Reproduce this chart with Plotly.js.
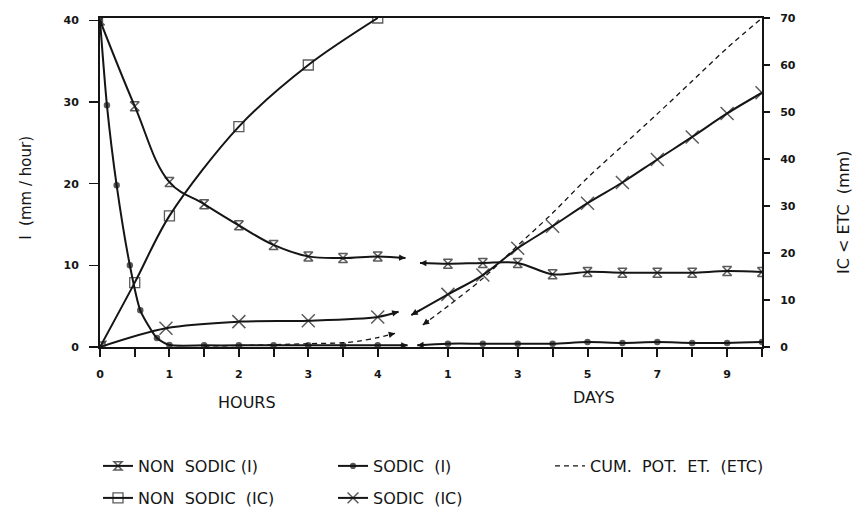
<!DOCTYPE html>
<html>
<head>
<meta charset="utf-8">
<script src="https://cdn.plot.ly/plotly-3.0.1.min.js"></script>
<style>html,body{margin:0;padding:0;background:#fff;}#chart{width:854px;height:507px;}</style>
</head>
<body>
<div id="chart"></div>
<script>
// ---------- tick labels ----------
const hourTickVals = [0, 0.5, 1, 1.5, 2, 2.5, 3, 3.5, 4];
const hourTickText = ['0', '', '1', '', '2', '', '3', '', '4'];
const dayTickVals = [1, 2, 3, 4, 5, 6, 7, 8, 9, 10];
const dayTickText = ['1', '', '3', '', '5', '', '7', '', '9', ''];
const leftTickVals = [0, 10, 20, 30, 40];
const rightTickVals = [0, 10, 20, 30, 40, 50, 60, 70];

// ---------- series names ----------
const nameNonSodicI = 'NON\u00a0 SODIC (I)';
const nameSodicI = 'SODIC\u00a0 (I)';
const nameEtc = 'CUM.\u00a0 POT.\u00a0 ET.\u00a0 (ETC)';
const nameNonSodicIC = 'NON\u00a0 SODIC\u00a0 (IC)';
const nameSodicIC = 'SODIC\u00a0 (IC)';

// ---------- NON SODIC (I)  [mm/hour, left axis] ----------
const nsI_hours_x = [0, 0.5, 1, 1.5, 2, 2.5, 3, 3.5, 4, 4.4];
const nsI_hours_y = [40, 29.5, 20.2, 17.5, 14.9, 12.5, 11.1, 10.9, 11.1, 10.9];
const nsI_days_x = [0.2, 1, 2, 3, 4, 5, 6, 7, 8, 9, 10];
const nsI_days_y = [10.3, 10.2, 10.3, 10.3, 8.9, 9.2, 9.1, 9.1, 9.1, 9.3, 9.2];

// ---------- SODIC (I)  [mm/hour, left axis] ----------
const sI_hours_x = [0, 0.1, 0.24, 0.43, 0.58, 0.82, 1, 1.5, 2, 2.5, 3, 3.5, 4, 4.43];
const sI_hours_y = [40, 29.6, 19.8, 10.0, 4.5, 1.1, 0.25, 0.2, 0.2, 0.2, 0.2, 0.2, 0.2, 0.2];
const sI_days_x = [0.12, 1, 2, 3, 4, 5, 6, 7, 8, 9, 10];
const sI_days_y = [0.2, 0.4, 0.4, 0.4, 0.4, 0.6, 0.5, 0.6, 0.5, 0.5, 0.6];

// ---------- NON SODIC (IC)  [mm, right axis] ----------
const nsIC_hours_x = [0, 0.5, 1, 2, 3, 4];
const nsIC_hours_y = [0, 13.7, 27.9, 46.9, 60.0, 70];

// ---------- SODIC (IC)  [mm, right axis] ----------
const sIC_hours_x = [0, 0.95, 2, 3, 4, 4.3];
const sIC_hours_y = [0, 4.0, 5.4, 5.6, 6.4, 7.5];
const sIC_days_x = [-0.05, 1, 2, 3, 4, 5, 6, 7, 8, 9, 10];
const sIC_days_y = [6.8, 11.2, 15.3, 21.0, 25.7, 30.6, 35.0, 39.9, 44.7, 49.7, 54.1];

// ---------- CUM. POT. ET. (ETC)  [mm, right axis] ----------
const etc_hours_x = [1.5, 2, 2.5, 3, 3.5, 3.75, 4, 4.25];
const etc_hours_y = [0.2, 0.3, 0.5, 0.7, 0.9, 1.3, 2.0, 2.9];
const etc_days_x = [0.28, 1, 2, 3, 4, 5, 6, 7, 8, 9, 10];
const etc_days_y = [4.7, 8.7, 14.6, 21.6, 28.5, 36.0, 42.8, 49.6, 56.6, 63.6, 70];

// ---------- styling ----------
const INK = '#151515';
const FONT = 'DejaVu Sans, Liberation Sans, Arial, sans-serif';
const LW = 2;

// marker sizes: no marker on the point that carries an arrowhead
function sizes(xs, size, arrowAt) {
  return xs.map((_, i) => (i === arrowAt ? 0 : size));
}

function series(xs, ys, xa, ya, opts) {
  const arrowAt = opts.arrow === 'end' ? xs.length - 1 : (opts.arrow === 'start' ? 0 : -1);
  const t = {
    type: 'scatter', x: xs, y: ys, xaxis: xa, yaxis: ya,
    name: opts.name, legendgroup: opts.name, showlegend: !!opts.legend,
    legend: opts.legend || 'legend',
    mode: opts.symbol ? 'lines+markers' : 'lines',
    line: { color: INK, width: opts.lw || LW, shape: 'spline', smoothing: opts.smoothing == null ? 0.9 : opts.smoothing, dash: opts.dash || 'solid' },
    hoverinfo: 'skip'
  };
  if (opts.symbol) {
    t.marker = { symbol: opts.symbol, size: sizes(xs, opts.msize, arrowAt), color: opts.fill || INK,
                 line: { color: INK, width: opts.mlw || 1.5 } };
  }
  return t;
}

function arrow(xs, ys, xref, yref, where) {
  const n = xs.length;
  const i = where === 'end' ? n - 1 : 0;
  const j = where === 'end' ? n - 2 : 1;
  const f = 0.3;
  return {
    x: xs[i], y: ys[i], xref: xref, yref: yref,
    ax: xs[i] + (xs[j] - xs[i]) * f, ay: ys[i] + (ys[j] - ys[i]) * f,
    axref: xref, ayref: yref, text: '', showarrow: true,
    arrowhead: 2, arrowsize: 0.8, arrowwidth: 1.6, arrowcolor: INK, standoff: 0, startstandoff: 0
  };
}

const traces = [
  // legend row 1
  series(nsI_hours_x, nsI_hours_y, 'x', 'y', { name: nameNonSodicI, legend: 'legend', symbol: 'hourglass-open', msize: 9, arrow: 'end', smoothing: 1.1 }),
  series(sI_hours_x, sI_hours_y, 'x', 'y', { name: nameSodicI, legend: 'legend', symbol: 'circle', msize: 5, mlw: 0, arrow: 'end', smoothing: 0.6 }),
  series(etc_hours_x, etc_hours_y, 'x', 'y2', { name: nameEtc, legend: 'legend3', dash: '5px,4px', lw: 1.3, arrow: 'end' }),
  // legend row 2
  series(nsIC_hours_x, nsIC_hours_y, 'x', 'y2', { name: nameNonSodicIC, legend: 'legend2', symbol: 'square-open', msize: 10, mlw: 1.3 }),
  series(sIC_hours_x, sIC_hours_y, 'x', 'y2', { name: nameSodicIC, legend: 'legend2', symbol: 'x-thin-open', msize: 13, mlw: 1.5, arrow: 'end' }),
  // day segments (no legend)
  series(nsI_days_x, nsI_days_y, 'x2', 'y', { name: nameNonSodicI, symbol: 'hourglass-open', msize: 9, arrow: 'start' }),
  series(sI_days_x, sI_days_y, 'x2', 'y', { name: nameSodicI, symbol: 'circle', msize: 5, mlw: 0, arrow: 'start' }),
  series(etc_days_x, etc_days_y, 'x2', 'y2', { name: nameEtc, dash: '5px,4px', lw: 1.3, arrow: 'start' }),
  series(sIC_days_x, sIC_days_y, 'x2', 'y2', { name: nameSodicIC, symbol: 'x-thin-open', msize: 13, mlw: 1.5, arrow: 'start' })
];

const annotations = [
  arrow(nsI_hours_x, nsI_hours_y, 'x', 'y', 'end'),
  arrow(sI_hours_x, sI_hours_y, 'x', 'y', 'end'),
  arrow(etc_hours_x, etc_hours_y, 'x', 'y2', 'end'),
  arrow(sIC_hours_x, sIC_hours_y, 'x', 'y2', 'end'),
  arrow(nsI_days_x, nsI_days_y, 'x2', 'y', 'start'),
  arrow(sI_days_x, sI_days_y, 'x2', 'y', 'start'),
  arrow(etc_days_x, etc_days_y, 'x2', 'y2', 'start'),
  arrow(sIC_days_x, sIC_days_y, 'x2', 'y2', 'start'),
  { text: 'HOURS', xref: 'paper', yref: 'paper', x: 0.2228, y: -0.1687, showarrow: false,
    xanchor: 'center', yanchor: 'middle', font: { family: FONT, size: 16, color: INK } },
  { text: 'DAYS', xref: 'paper', yref: 'paper', x: 0.7462, y: -0.155, showarrow: false,
    xanchor: 'center', yanchor: 'middle', font: { family: FONT, size: 16, color: INK } },
  { text: 'I\u00a0 (mm / hour)', xref: 'paper', yref: 'paper', x: -0.112, y: 0.4833, textangle: -90, showarrow: false,
    xanchor: 'center', yanchor: 'middle', font: { family: FONT, size: 15, color: INK } },
  { text: 'IC &lt; ETC\u00a0 (mm)', xref: 'paper', yref: 'paper', x: 1.1239, y: 0.4073, textangle: -90, showarrow: false,
    xanchor: 'center', yanchor: 'middle', font: { family: FONT, size: 16, color: INK } }
];

const tickFont = { family: FONT, size: 11, color: INK, weight: 'bold' };
const legendFont = { family: FONT, size: 16, color: INK };

function legendBox(xPx, yPx, entryWidth) {
  return {
    orientation: 'h', xref: 'container', yref: 'container',
    x: xPx / 854, y: 1 - yPx / 507, xanchor: 'left', yanchor: 'middle',
    entrywidth: entryWidth, entrywidthmode: 'pixels', itemwidth: 30,
    font: legendFont, bgcolor: 'rgba(0,0,0,0)', borderwidth: 0, traceorder: 'normal'
  };
}

const layout = {
  width: 854, height: 507,
  margin: { l: 100, r: 92, t: 18, b: 160, pad: 0 },
  paper_bgcolor: '#fff', plot_bgcolor: '#fff',
  showlegend: true,
  xaxis: {
    domain: [0, 0.4683], range: [0, 4.465], anchor: 'y',
    tickmode: 'array', tickvals: hourTickVals, ticktext: hourTickText,
    ticks: 'outside', ticklen: 8, tickwidth: 2, tickcolor: INK, ticklabelstandoff: 8,
    showline: true, linecolor: INK, linewidth: 2, mirror: true,
    showgrid: false, zeroline: false, tickfont: tickFont, fixedrange: true
  },
  xaxis2: {
    domain: [0.4683, 1], range: [-0.086, 10], anchor: 'y',
    tickmode: 'array', tickvals: dayTickVals, ticktext: dayTickText,
    ticks: 'outside', ticklen: 8, tickwidth: 2, tickcolor: INK, ticklabelstandoff: 8,
    showline: true, linecolor: INK, linewidth: 2, mirror: true,
    showgrid: false, zeroline: false, tickfont: tickFont, fixedrange: true
  },
  yaxis: {
    range: [0, 40.3], anchor: 'x', side: 'left',
    tickmode: 'array', tickvals: leftTickVals,
    ticks: 'outside', ticklen: 9, tickwidth: 1.5, tickcolor: INK, ticklabelstandoff: 8,
    showline: true, linecolor: INK, linewidth: 2,
    showgrid: false, zeroline: false, tickfont: tickFont, fixedrange: true
  },
  yaxis2: {
    range: [0, 70], anchor: 'x2', side: 'right', overlaying: 'y',
    tickmode: 'array', tickvals: rightTickVals,
    ticks: 'outside', ticklen: 6, tickwidth: 1.5, tickcolor: INK, ticklabelstandoff: 8,
    showline: true, linecolor: INK, linewidth: 2,
    showgrid: false, zeroline: false, tickfont: tickFont, fixedrange: true
  },
  legend: legendBox(98, 466, 190),
  legend2: legendBox(98, 498, 190),
  legend3: legendBox(550, 466, 180),
  annotations: annotations
};

Plotly.newPlot('chart', traces, layout, { staticPlot: true, displayModeBar: false });
</script>
</body>
</html>
